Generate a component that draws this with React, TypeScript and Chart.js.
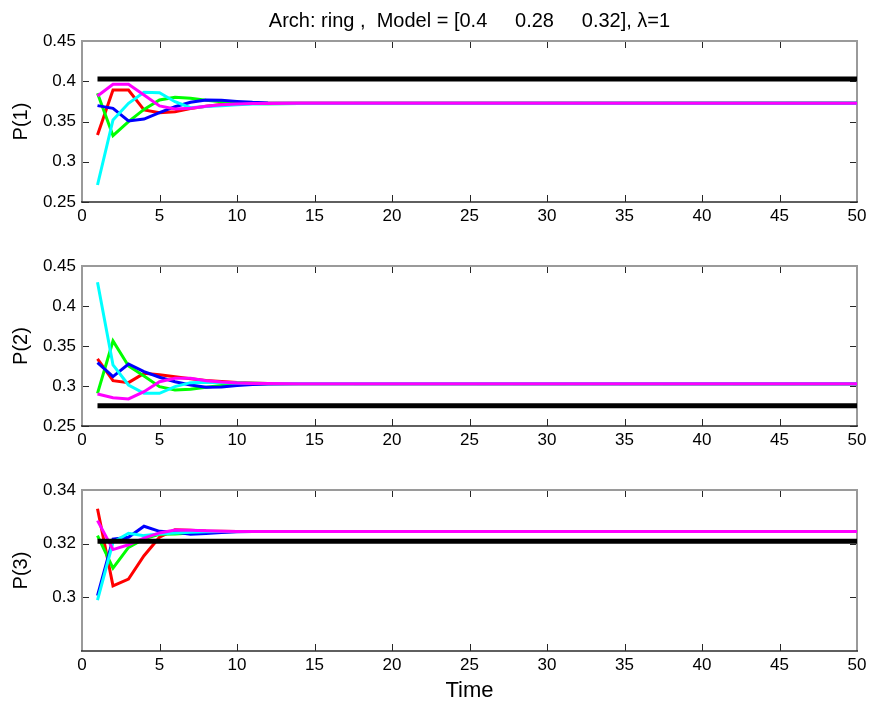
import React, { useEffect, useRef } from "react";
import { Chart, registerables } from "chart.js";
Chart.register(...registerables);

const FONT = "'Liberation Sans', Arial, Helvetica, sans-serif";

const titleText = "Arch: ring ,  Model = [0.4     0.28     0.32], \u03bb=1";
const xLabel = "Time";
const yLabels = ["P(1)", "P(2)", "P(3)"];

// time steps (values settle to a constant after t = 14)
const times = [1, 2, 3, 4, 5, 6, 7, 8, 9, 10, 11, 12, 14, 50];
const modelTimes = [1, 50];
const modelValues = [0.4027, 0.2754, 0.3209];

const xTicks = [0, 5, 10, 15, 20, 25, 30, 35, 40, 45, 50];
const yTicksP1 = [0.25, 0.3, 0.35, 0.4, 0.45];
const yTicksP2 = [0.25, 0.3, 0.35, 0.4, 0.45];
const yTicksP3 = [0.3, 0.32, 0.34];
const yRangeP1 = [0.25, 0.45];
const yRangeP2 = [0.25, 0.45];
const yRangeP3 = [0.28, 0.34];

const seriesColors = ["#ff0000", "#00ff00", "#0000ff", "#00ffff", "#ff00ff"];

// P(1)
const p1Red = [0.3332, 0.389, 0.389, 0.3643, 0.361, 0.362, 0.366, 0.369, 0.371, 0.3725, 0.373, 0.3728, 0.3727, 0.3726];
const p1Green = [0.385, 0.3324, 0.3498, 0.365, 0.3767, 0.38, 0.379, 0.3765, 0.3745, 0.3732, 0.3724, 0.3722, 0.3724, 0.3726];
const p1Blue = [0.3697, 0.3664, 0.3506, 0.353, 0.361, 0.3684, 0.3738, 0.3767, 0.3765, 0.375, 0.3738, 0.3731, 0.3727, 0.3726];
const p1Cyan = [0.2711, 0.3519, 0.3726, 0.3863, 0.3858, 0.3746, 0.3672, 0.3685, 0.3697, 0.3708, 0.3716, 0.3721, 0.3724, 0.3726];
const p1Magenta = [0.3817, 0.3962, 0.3962, 0.383, 0.3693, 0.3655, 0.3664, 0.369, 0.3708, 0.3718, 0.3723, 0.3725, 0.3726, 0.3726];

// P(2)
const p2Red = [0.3338, 0.3067, 0.3042, 0.3158, 0.314, 0.3117, 0.309, 0.307, 0.3055, 0.3043, 0.3036, 0.3032, 0.303, 0.3029];
const p2Green = [0.2908, 0.3563, 0.325, 0.3125, 0.2992, 0.295, 0.296, 0.2985, 0.3005, 0.3017, 0.3024, 0.3027, 0.3029, 0.3029];
const p2Blue = [0.3292, 0.3117, 0.3275, 0.318, 0.311, 0.3054, 0.3013, 0.2985, 0.2988, 0.3005, 0.3018, 0.3025, 0.3028, 0.3029];
const p2Cyan = [0.4296, 0.3263, 0.3013, 0.2908, 0.2908, 0.2992, 0.3042, 0.3046, 0.3042, 0.3037, 0.3033, 0.3031, 0.303, 0.3029];
const p2Magenta = [0.29, 0.2854, 0.2838, 0.2929, 0.3054, 0.3096, 0.3096, 0.3067, 0.305, 0.3038, 0.3032, 0.303, 0.3029, 0.3029];

// P(3)
const p3Red = [0.333, 0.3043, 0.3068, 0.3155, 0.3224, 0.3252, 0.325, 0.3247, 0.3246, 0.3245, 0.3245, 0.3245, 0.3245, 0.3245];
const p3Green = [0.323, 0.3109, 0.3186, 0.3218, 0.3235, 0.3236, 0.324, 0.3243, 0.3244, 0.3245, 0.3245, 0.3245, 0.3245, 0.3245];
const p3Blue = [0.3006, 0.3217, 0.3224, 0.3265, 0.3246, 0.3243, 0.3235, 0.3238, 0.3242, 0.3244, 0.3245, 0.3245, 0.3245, 0.3245];
const p3Cyan = [0.299, 0.3205, 0.3239, 0.323, 0.3236, 0.324, 0.3243, 0.3244, 0.3245, 0.3245, 0.3245, 0.3245, 0.3245, 0.3245];
const p3Magenta = [0.3286, 0.3178, 0.3196, 0.3221, 0.324, 0.3251, 0.325, 0.3248, 0.3246, 0.3245, 0.3245, 0.3245, 0.3245, 0.3245];

const panelSeries = [
  [p1Red, p1Green, p1Blue, p1Cyan, p1Magenta],
  [p2Red, p2Green, p2Blue, p2Cyan, p2Magenta],
  [p3Red, p3Green, p3Blue, p3Cyan, p3Magenta],
];
const panelYTicks = [yTicksP1, yTicksP2, yTicksP3];
const panelYRange = [yRangeP1, yRangeP2, yRangeP3];

// layout (pixels)
const panelLayout = [
  { top: 0, height: 235, padTop: 41 },
  { top: 235, height: 225, padTop: 31 },
  { top: 460, height: 246, padTop: 30 },
];
const PLOT_BOTTOM = [202, 426, 651];

const fmt = (v: number) => String(Number(Number(v).toFixed(4)));

const matlabAxes = {
  id: "matlabAxes",
  beforeDatasetsDraw(chart: any, _args: any, opts: any) {
    const { ctx, chartArea: a, scales } = chart;
    const xs = scales.x;
    const ys = scales.y;
    ctx.save();
    ctx.strokeStyle = "#262626";
    ctx.lineWidth = 1;
    ctx.beginPath();
    for (const v of opts.xTicks) {
      const px = Math.round(xs.getPixelForValue(v)) + 0.5;
      ctx.moveTo(px, a.bottom);
      ctx.lineTo(px, a.bottom - 7);
      ctx.moveTo(px, a.top);
      ctx.lineTo(px, a.top + 7);
    }
    for (const v of opts.yTicks) {
      const py = Math.round(ys.getPixelForValue(v)) + 0.5;
      ctx.moveTo(a.left, py);
      ctx.lineTo(a.left + 7, py);
      ctx.moveTo(a.right, py);
      ctx.lineTo(a.right - 7, py);
    }
    ctx.stroke();
    ctx.strokeStyle = "#9a9a9a";
    ctx.lineWidth = 2;
    ctx.beginPath();
    ctx.moveTo(a.left, a.bottom);
    ctx.lineTo(a.left, a.top);
    ctx.lineTo(a.right, a.top);
    ctx.lineTo(a.right, a.bottom);
    ctx.stroke();
    ctx.strokeStyle = "#2a2a2a";
    ctx.lineWidth = 1.5;
    ctx.beginPath();
    ctx.moveTo(a.left - 1, a.bottom);
    ctx.lineTo(a.right + 1, a.bottom);
    ctx.stroke();
    ctx.restore();
  },
  afterDraw(chart: any, _args: any, opts: any) {
    const { ctx, chartArea: a } = chart;
    ctx.save();
    ctx.fillStyle = "#000";
    if (opts.title) {
      ctx.font = `20px ${FONT}`;
      ctx.textAlign = "center";
      ctx.textBaseline = "alphabetic";
      ctx.fillText(opts.title, (a.left + a.right) / 2, 27);
    }
    if (opts.xLabel) {
      ctx.font = `22px ${FONT}`;
      ctx.textAlign = "center";
      ctx.textBaseline = "alphabetic";
      ctx.fillText(opts.xLabel, (a.left + a.right) / 2, a.bottom + 46);
    }
    if (opts.yLabel) {
      ctx.font = `20px ${FONT}`;
      ctx.translate(27, (a.top + a.bottom) / 2);
      ctx.rotate(-Math.PI / 2);
      ctx.textAlign = "center";
      ctx.textBaseline = "alphabetic";
      ctx.fillText(opts.yLabel, 0, 0);
    }
    ctx.restore();
  },
};

function Panel({ idx }: { idx: number }) {
  const ref = useRef<HTMLCanvasElement | null>(null);
  const lay = panelLayout[idx];
  useEffect(() => {
    if (!ref.current) return;
    const series = panelSeries[idx];
    const datasets: any[] = [
      {
        data: modelTimes.map((t) => ({ x: t, y: modelValues[idx] })),
        borderColor: "#000000",
        borderWidth: 5,
        pointRadius: 0,
        order: 0,
      },
    ];
    series.forEach((vals, s) => {
      datasets.push({
        data: times.map((t, i) => ({ x: t, y: vals[i] })),
        borderColor: seriesColors[s],
        borderWidth: 3,
        pointRadius: 0,
        tension: 0,
        order: 5 - s,
      });
    });
    const yTicks = panelYTicks[idx];
    const [yMin, yMax] = panelYRange[idx];
    const xAxisH = 30;
    const padBottom = lay.height - (PLOT_BOTTOM[idx] - lay.top) - xAxisH;
    const chart = new Chart(ref.current, {
      type: "line",
      data: { datasets },
      plugins: [matlabAxes as any],
      options: {
        animation: false,
        responsive: false,
        devicePixelRatio: 1,
        layout: { padding: { top: lay.padTop, left: 0, right: 15, bottom: padBottom } },
        plugins: {
          legend: { display: false },
          tooltip: { enabled: false },
          matlabAxes: {
            xTicks,
            yTicks,
            title: idx === 0 ? titleText : null,
            xLabel: idx === 2 ? xLabel : null,
            yLabel: yLabels[idx],
          },
        } as any,
        scales: {
          x: {
            type: "linear",
            min: 0,
            max: 50,
            grid: { display: false, drawTicks: false },
            border: { display: false },
            afterBuildTicks: (s: any) => {
              s.ticks = xTicks.map((value) => ({ value }));
            },
            afterFit: (s: any) => {
              s.height = xAxisH;
              s.paddingLeft = 0;
              s.paddingRight = 0;
            },
            ticks: {
              padding: 4,
              color: "#000",
              maxRotation: 0,
              autoSkip: false,
              font: { family: FONT, size: 17 },
              callback: (v: any) => fmt(v),
            },
          },
          y: {
            type: "linear",
            min: yMin,
            max: yMax,
            grid: { display: false, drawTicks: false },
            border: { display: false },
            afterBuildTicks: (s: any) => {
              s.ticks = yTicks.map((value) => ({ value }));
            },
            afterFit: (s: any) => {
              s.width = 82;
              s.paddingTop = 0;
              s.paddingBottom = 0;
            },
            ticks: {
              padding: 6,
              color: "#000",
              autoSkip: false,
              font: { family: FONT, size: 17 },
              callback: (v: any) => fmt(v),
            },
          },
        },
      } as any,
    });
    return () => chart.destroy();
  }, [idx]);
  return (
    <canvas
      ref={ref}
      width={872}
      height={lay.height}
      style={{ position: "absolute", left: 0, top: lay.top, width: 872, height: lay.height, display: "block" }}
    />
  );
}

export default function App() {
  return (
    <div style={{ position: "absolute", left: 0, top: 0, width: 872, height: 706, background: "#ffffff", overflow: "hidden" }}>
      <Panel idx={0} />
      <Panel idx={1} />
      <Panel idx={2} />
    </div>
  );
}
